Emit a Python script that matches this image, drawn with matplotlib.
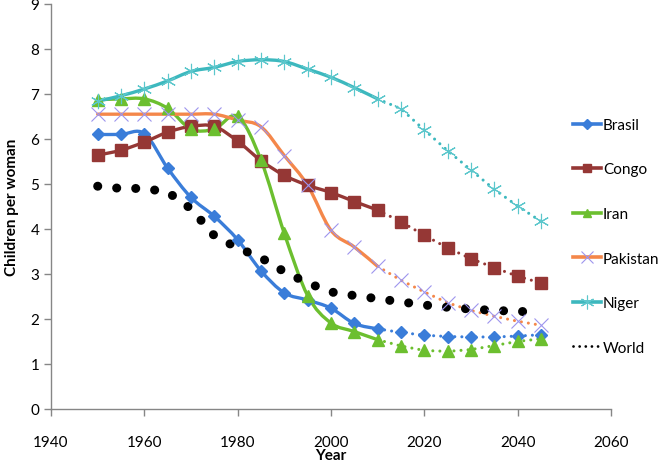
import numpy as np
import matplotlib
matplotlib.use("Agg")
import matplotlib.pyplot as plt
from matplotlib.path import Path
from matplotlib.patches import PathPatch
from matplotlib.lines import Line2D

plt.rcParams['font.family'] = ['Lato', 'DejaVu Sans']

years = [1950, 1955, 1960, 1965, 1970, 1975, 1980, 1985, 1990, 1995,
         2000, 2005, 2010, 2015, 2020, 2025, 2030, 2035, 2040, 2045]

brasil = [6.10, 6.10, 6.12, 5.35, 4.70, 4.28, 3.76, 3.07, 2.58, 2.42,
          2.24, 1.90, 1.78, 1.70, 1.64, 1.61, 1.60, 1.60, 1.62, 1.65]
congo = [5.64, 5.75, 5.93, 6.15, 6.28, 6.28, 5.95, 5.52, 5.19, 4.97,
         4.81, 4.61, 4.42, 4.16, 3.86, 3.58, 3.34, 3.14, 2.95, 2.80]
iran = [6.87, 6.89, 6.89, 6.68, 6.22, 6.22, 6.50, 5.53, 3.90, 2.52,
        1.91, 1.72, 1.54, 1.40, 1.30, 1.28, 1.32, 1.41, 1.50, 1.56]
pakistan = [6.55, 6.55, 6.55, 6.55, 6.55, 6.55, 6.42, 6.27, 5.63, 4.97,
            3.97, 3.60, 3.17, 2.86, 2.60, 2.36, 2.19, 2.06, 1.95, 1.86]
niger = [6.84, 6.96, 7.11, 7.29, 7.50, 7.59, 7.72, 7.76, 7.72, 7.55,
         7.37, 7.14, 6.89, 6.67, 6.20, 5.74, 5.31, 4.88, 4.51, 4.17]
world = [4.95, 4.90, 4.90, 4.82, 4.45, 3.85, 3.58, 3.36, 3.05, 2.80,
         2.60, 2.52, 2.45, 2.38, 2.31, 2.26, 2.22, 2.19, 2.17, 2.15]

split = 12  # index of 2010: estimates solid, projections dotted


def smooth_path(x, y):
    # Excel-like smoothed line: cubic Bezier segments with Catmull-Rom handles
    x = np.asarray(x, float)
    y = np.asarray(y, float)
    n = len(x)
    verts = [(x[0], y[0])]
    codes = [Path.MOVETO]
    for i in range(n - 1):
        i0 = max(i - 1, 0)
        i3 = min(i + 2, n - 1)
        c1 = (x[i] + (x[i + 1] - x[i0]) / 6, y[i] + (y[i + 1] - y[i0]) / 6)
        c2 = (x[i + 1] - (x[i3] - x[i]) / 6, y[i + 1] - (y[i3] - y[i]) / 6)
        verts += [c1, c2, (x[i + 1], y[i + 1])]
        codes += [Path.CURVE4] * 3
    return Path(verts, codes)


fig = plt.figure(figsize=(6.61, 4.64), dpi=100)
ax = fig.add_axes([0.0772, 0.1164, 0.847, 0.873])

series = [
    ("Brasil", brasil, "#3A7DD9", "D", 6.5, "#3A7DD9"),
    ("Congo", congo, "#953735", "s", 8, "#953735"),
    ("Iran", iran, "#6CBF2F", "^", 8, "#6CBF2F"),
    ("Pakistan", pakistan, "#F4874A", "x", 10, "#9D95EE"),
    ("Niger", niger, "#3DB8BE", (6, 2, 0), 11, "#5CC7CC"),
]

handles = []
for name, vals, col, mk, ms, mcol in series:
    path = smooth_path(years[:split + 1], vals[:split + 1])
    ax.add_patch(PathPatch(path, fill=False, edgecolor=col, lw=2.4,
                           capstyle='round', joinstyle='round', zorder=3))
    ax.plot(years[split:], vals[split:], color=col, lw=2.2,
            linestyle=(0, (0.01, 2.3)), dash_capstyle='round', zorder=3)
    if mk in ("x", (6, 2, 0)):
        ax.plot(years, vals, linestyle='none', marker=mk, ms=ms,
                mec=mcol, mew=0.8, zorder=4)
        h = Line2D([], [], color=col, lw=2.6, marker=mk, ms=ms * 0.9, mec=mcol, mew=0.8)
    else:
        ax.plot(years, vals, linestyle='none', marker=mk, ms=ms,
                mfc=mcol, mec=mcol, zorder=4)
        h = Line2D([], [], color=col, lw=2.6, marker=mk, ms=ms * 0.8,
                   mfc=mcol, mec=mcol)
    handles.append(h)

ax.plot(years, world, color='black', lw=6.5,
        linestyle=(0, (0.01, 2.1)), dash_capstyle='round', zorder=3)
handles.append(Line2D([], [], color='black', lw=2.0,
                      linestyle=(0, (0.01, 2.2)), dash_capstyle='round'))

ax.set_xlim(1940, 2060)
ax.set_ylim(0, 9)
ax.set_xticks(range(1940, 2061, 20))
ax.set_yticks(range(0, 10))
for s in ['top', 'right']:
    ax.spines[s].set_visible(False)
for s in ['left', 'bottom']:
    ax.spines[s].set_color('#868686')
    ax.spines[s].set_linewidth(1.0)
ax.tick_params(colors='#868686', length=5, width=1.0, labelsize=11,
               labelcolor='black')
ax.tick_params(axis='x', pad=14)

ax.set_xlabel('Year', fontsize=11, fontweight='bold', labelpad=-1)
ax.set_ylabel('Children per woman', fontsize=11, fontweight='bold', labelpad=8)

names = [s[0] for s in series] + ['World']
fig.legend(handles, names, loc='upper left', bbox_to_anchor=(0.858, 0.757),
           frameon=False, fontsize=11, labelspacing=2.0, handlelength=1.8,
           handletextpad=0.15, borderaxespad=0)

fig.savefig('out.png', dpi=100)
